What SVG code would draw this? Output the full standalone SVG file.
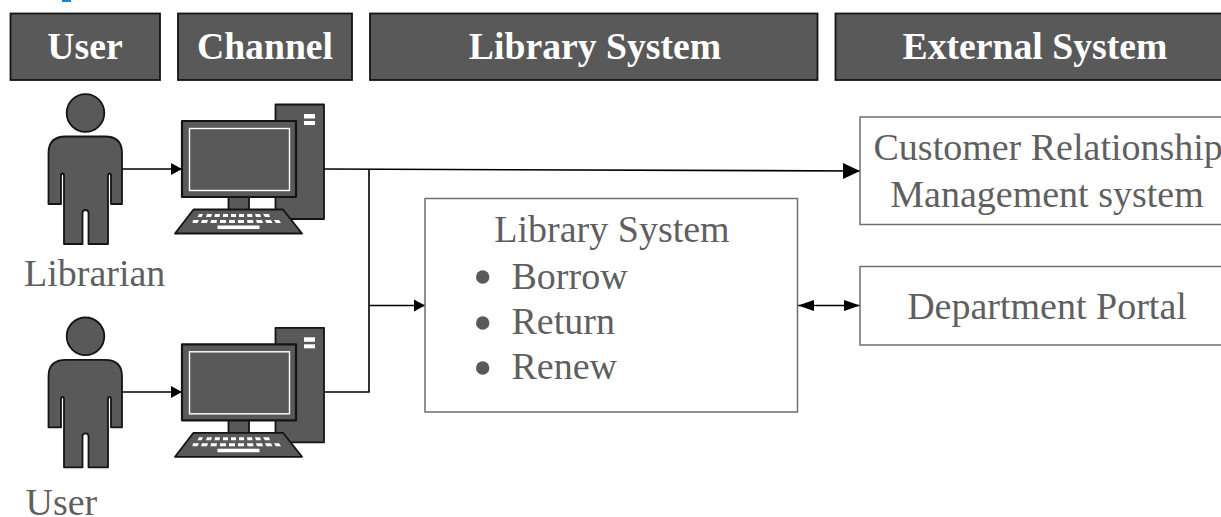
<svg xmlns="http://www.w3.org/2000/svg" width="1221" height="517" viewBox="0 0 1221 517">
<style>
text{font-family:"Liberation Serif","Times New Roman",serif;fill:#5f5f5f;font-size:38px}
.hd rect{fill:#595959;stroke:#141414;stroke-width:1.8}
.hd text{fill:#fff;font-weight:bold;font-size:37.700px;text-anchor:middle}
.box{fill:#fff;stroke:#6f6f6f;stroke-width:1.500}
.c{text-anchor:middle}
.ic{fill:#595959;stroke:#141414;stroke-width:1.800;stroke-linejoin:round}
.w{fill:#fff;stroke:none}
.sc{fill:none;stroke:#fff;stroke-width:1.400}
.ln{fill:none;stroke:#000;stroke-width:1.600}
</style>
<defs>
<marker id="a" markerUnits="userSpaceOnUse" markerWidth="12" markerHeight="13" refX="11" refY="6.500" orient="auto"><path d="M0 .5L11 6.500L0 12.500Z" fill="#000"/></marker>
<marker id="b" markerUnits="userSpaceOnUse" markerWidth="17" markerHeight="18" refX="17" refY="9" orient="auto"><path d="M0 1L17 9L0 17Z" fill="#000"/></marker>
<marker id="d" markerUnits="userSpaceOnUse" markerWidth="17" markerHeight="12" refX="16" refY="6" orient="auto-start-reverse"><path d="M0 .5L16 6L0 11.500Z" fill="#000"/></marker>
<g id="person"><circle class="ic" cx="85.500" cy="113" r="18.800"/><path class="ic" d="M66 136.500H105Q122 136.500 122 153V204H111V176Q111 173.500 109.500 173.500Q108 173.500 108 176V244H88.500V213Q88.500 210 85.500 210Q82.500 210 82.500 213V244H64V176Q64 173.500 62.500 173.500Q61 173.500 61 176V204H48.500V153Q48.500 136.500 66 136.500Z"/></g>
<g id="pc"><rect class="ic" x="275.500" y="104.500" width="48.500" height="114.500"/><rect class="w" x="304" y="114" width="11" height="4.500"/><rect class="w" x="304" y="121" width="11" height="4"/><rect class="ic" x="228.500" y="196" width="20.500" height="14"/><rect class="ic" x="182" y="121" width="114" height="76" style="stroke-width:2.200"/><rect class="sc" x="189.500" y="128.500" width="100" height="62"/><path class="ic" d="M193.500 209.500H283L302 233.500H175Z"/><path class="w" d="M199 214h4l-1.500 3h-4ZM207 214h5l-1 3h-5ZM215 214h5l-.5 3h-5ZM223 214h5v3h-5ZM231 214h5v3h-5ZM239 214h5v3h-5ZM247 214h5l.5 3h-5ZM255 214h5l1 3h-5ZM263 214h6l1 3h-5ZM193 220h6l-1.500 3h-5ZM202 220h6l-1 3h-6ZM211 220h6l-.5 3h-6ZM220 220h6v3h-6ZM229 220h6v3h-6ZM238 220h6v3h-6ZM247 220h6l.5 3h-6ZM256 220h6l1 3h-6ZM265 220h6l1.500 3h-6ZM274 220h5l2 3h-5ZM217.500 225.500h42l0 3.500h-42Z"/></g>
</defs>
<rect width="1221" height="517" fill="#fff"/>
<rect x="62" y="0" width="9" height="2" fill="#1f7fd6"/>
<g id="header-user" class="hd"><rect x="10.500" y="13.500" width="149.500" height="66.500"/><text x="85" y="59">User</text></g>
<g id="header-channel" class="hd"><rect x="178" y="13.500" width="174" height="66.500"/><text x="265" y="59">Channel</text></g>
<g id="header-library" class="hd"><rect x="370" y="13.500" width="447.500" height="66.500"/><text x="595" y="59">Library System</text></g>
<g id="header-external" class="hd"><rect x="835.500" y="13.500" width="390" height="66.500"/><text x="1035" y="59">External System</text></g>
<g id="connectors">
<path class="ln" d="M122 169H182" marker-end="url(#a)"/>
<path class="ln" d="M122 392H182" marker-end="url(#a)"/>
<path class="ln" d="M324 169L860 171" marker-end="url(#b)"/>
<path class="ln" d="M324 392H369V169"/>
<path class="ln" d="M369 305.500H425" marker-end="url(#a)"/>
<path class="ln" d="M798 305.500H860" marker-start="url(#d)" marker-end="url(#d)"/>
</g>
<g id="librarian"><use href="#person"/><text x="24" y="286">Librarian</text></g>
<g id="user"><use href="#person" y="223.300"/><text x="25.500" y="515">User</text></g>
<g id="channel-1"><use href="#pc"/></g>
<g id="channel-2"><use href="#pc" y="223.300"/></g>
<g id="library-system"><rect class="box" x="425" y="198.500" width="372.500" height="213.500"/>
<text class="c" x="612" y="241.500">Library System</text>
<circle cx="482.700" cy="277" r="6.700" fill="#595959"/><text x="511.500" y="288.500">Borrow</text>
<circle cx="482.700" cy="323" r="6.700" fill="#595959"/><text x="511.500" y="334">Return</text>
<circle cx="482.700" cy="368" r="6.700" fill="#595959"/><text x="511.500" y="379">Renew</text></g>
<g id="crm"><rect class="box" x="860" y="117" width="365" height="107.500"/><text x="873.500" y="160">Customer Relationship</text><text class="c" x="1047" y="207">Management system</text></g>
<g id="portal"><rect class="box" x="860" y="266.500" width="365" height="78.500"/><text class="c" x="1047" y="319">Department Portal</text></g>
</svg>
